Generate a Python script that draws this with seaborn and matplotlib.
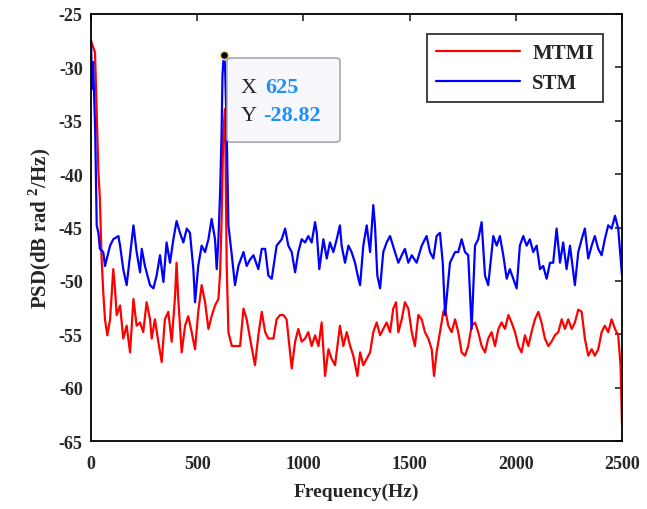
import numpy as np
import pandas as pd
import seaborn as sns
import matplotlib
matplotlib.use("Agg")
import matplotlib.pyplot as plt
from matplotlib.patches import FancyBboxPatch

# (frequency Hz, PSD dB)
mtmi_points = [
    (0, -27.5), (19, -28.6), (27, -34.2), (35, -39.8), (42, -42.3), (50, -47.9), (58, -51.1), (66, -53.6), (77, -55.1), (90, -53.6),
    (105, -48.9), (113, -50.7), (121, -53.2), (137, -52.3), (152, -55.4), (168, -54.2), (184, -56.7), (200, -51.7), (215, -54.2), (231, -53.9),
    (246, -54.8), (262, -52.0), (278, -53.6), (286, -55.4), (301, -53.6), (317, -55.7), (333, -57.6), (348, -53.6), (364, -52.9), (380, -55.7),
    (396, -51.4), (403, -48.3), (411, -51.7), (427, -56.7), (443, -54.2), (458, -53.3), (474, -54.8), (490, -56.4), (505, -52.9), (521, -50.4),
    (537, -52.0), (553, -54.5), (568, -53.3), (584, -52.3), (600, -51.7), (608, -49.2), (615, -44.2), (623, -36.1), (631, -33.9), (639, -48.6),
    (647, -54.8), (663, -56.1), (678, -56.1), (702, -56.1), (718, -52.6), (733, -53.6), (749, -55.4), (772, -57.9), (788, -55.1), (804, -52.9),
    (820, -54.8), (835, -55.4), (859, -55.4), (874, -53.6), (890, -53.2), (906, -53.2), (921, -53.6), (937, -56.7), (945, -58.2), (961, -55.7),
    (976, -54.5), (992, -55.7), (1008, -55.4), (1023, -54.8), (1039, -56.1), (1055, -55.1), (1071, -56.1), (1086, -53.9), (1102, -58.9), (1118, -56.4),
    (1133, -57.3), (1149, -57.9), (1172, -54.2), (1188, -56.1), (1204, -54.8), (1220, -56.1), (1235, -57.0), (1254, -58.9), (1267, -56.7), (1282, -57.9),
    (1298, -57.3), (1314, -56.7), (1329, -54.8), (1345, -53.9), (1361, -55.1), (1376, -54.5), (1392, -53.9), (1408, -54.8), (1423, -52.6), (1436, -52.0),
    (1447, -54.8), (1463, -53.6), (1478, -52.0), (1494, -52.6), (1510, -54.8), (1525, -56.1), (1541, -53.2), (1557, -53.6), (1572, -54.8), (1588, -55.4),
    (1604, -56.4), (1615, -58.9), (1627, -56.7), (1643, -54.8), (1659, -52.9), (1667, -52.6), (1682, -54.2), (1698, -54.8), (1714, -53.6), (1729, -54.8),
    (1745, -56.7), (1761, -57.0), (1776, -56.1), (1792, -54.2), (1808, -53.9), (1823, -54.8), (1839, -56.1), (1855, -56.7), (1870, -55.4), (1886, -54.8),
    (1902, -56.1), (1918, -54.5), (1933, -53.9), (1949, -54.5), (1965, -53.2), (1980, -53.9), (1996, -54.8), (2012, -56.1), (2027, -56.7), (2043, -55.1),
    (2059, -56.1), (2074, -54.8), (2090, -53.6), (2106, -52.9), (2121, -53.9), (2137, -55.4), (2153, -56.1), (2168, -55.7), (2184, -55.1), (2200, -54.8),
    (2216, -53.6), (2231, -54.5), (2247, -53.6), (2263, -54.5), (2278, -53.9), (2294, -52.7), (2310, -52.9), (2325, -55.4), (2341, -57.0), (2357, -56.4),
    (2372, -57.0), (2388, -56.4), (2404, -54.8), (2419, -54.2), (2435, -54.8), (2451, -53.6), (2467, -54.5), (2482, -55.1), (2493, -57.9), (2500, -63.5),
]

stm_points = [
    (0, -27.5), (5, -32.0), (10, -29.5), (20, -36.0), (27, -44.8), (35, -45.5), (42, -47.0), (58, -47.3), (66, -48.6), (90, -46.7),
    (105, -46.1), (129, -45.8), (137, -46.7), (152, -48.9), (168, -50.4), (184, -47.6), (200, -44.8), (215, -47.3), (231, -49.2), (239, -47.0),
    (254, -48.6), (278, -50.4), (294, -50.7), (309, -49.5), (325, -47.6), (341, -50.1), (356, -46.4), (372, -48.3), (388, -46.1), (403, -44.4),
    (419, -45.5), (435, -46.4), (451, -45.1), (466, -45.5), (482, -48.9), (490, -52.0), (505, -48.6), (521, -46.7), (537, -47.3), (553, -46.1),
    (568, -44.2), (584, -46.1), (592, -48.9), (600, -46.1), (608, -41.7), (615, -36.1), (619, -30.8), (625, -28.82), (631, -29.7), (639, -36.1),
    (647, -44.8), (663, -47.6), (678, -50.4), (694, -48.6), (718, -47.3), (733, -48.6), (749, -48.0), (765, -47.6), (788, -48.9), (804, -47.0),
    (820, -47.0), (835, -49.5), (851, -49.8), (874, -46.7), (898, -46.1), (914, -45.1), (929, -46.7), (945, -47.3), (961, -49.2), (976, -47.3),
    (992, -46.1), (1008, -46.4), (1023, -45.8), (1039, -46.4), (1055, -44.5), (1063, -45.5), (1075, -48.9), (1094, -46.1), (1110, -47.9), (1125, -46.4),
    (1141, -47.3), (1157, -46.1), (1172, -44.8), (1180, -46.7), (1196, -48.3), (1212, -46.7), (1227, -47.3), (1243, -48.3), (1259, -49.8), (1267, -50.4),
    (1282, -46.7), (1298, -44.8), (1314, -47.3), (1329, -42.9), (1337, -44.8), (1348, -49.5), (1361, -50.7), (1376, -47.3), (1392, -46.4), (1408, -45.8),
    (1431, -47.3), (1447, -48.3), (1463, -47.6), (1478, -47.0), (1494, -48.3), (1510, -47.6), (1533, -48.3), (1557, -46.7), (1580, -45.8), (1596, -47.3),
    (1612, -47.9), (1627, -45.8), (1643, -45.5), (1656, -48.3), (1667, -53.2), (1690, -48.3), (1714, -47.3), (1729, -47.3), (1745, -46.1), (1761, -47.3),
    (1776, -47.6), (1792, -54.5), (1808, -46.7), (1823, -46.1), (1839, -44.5), (1855, -49.5), (1870, -50.4), (1886, -47.3), (1894, -45.8), (1910, -46.7),
    (1925, -45.8), (1941, -47.6), (1957, -49.8), (1972, -48.9), (1988, -49.8), (2004, -50.7), (2019, -46.7), (2035, -45.8), (2051, -46.7), (2066, -46.1),
    (2082, -47.3), (2098, -46.7), (2114, -48.9), (2129, -48.6), (2145, -49.8), (2161, -48.3), (2176, -48.3), (2192, -45.1), (2208, -48.3), (2223, -46.4),
    (2239, -48.9), (2255, -46.7), (2278, -50.4), (2294, -47.3), (2310, -46.1), (2325, -45.1), (2341, -47.9), (2357, -46.7), (2372, -45.8), (2388, -47.0),
    (2404, -47.6), (2419, -46.1), (2435, -44.8), (2451, -45.1), (2467, -43.9), (2482, -45.1), (2500, -49.5),
]

series_names = ["MTMI", "STM"]
series_colors = ["#ff0000", "#0000ff"]
marker_x = 625
marker_y = -28.82

frames = []
for name, pts in zip(series_names, [mtmi_points, stm_points]):
    f = pd.DataFrame(pts, columns=["freq", "psd"])
    f["method"] = name
    frames.append(f)
df = pd.concat(frames, ignore_index=True)

sns.set_style("white")
plt.rcParams["font.family"] = ["Liberation Serif", "DejaVu Serif"]
plt.rcParams["mathtext.fontset"] = "custom"
plt.rcParams["mathtext.bf"] = "Liberation Serif:bold"
plt.rcParams["mathtext.rm"] = "Liberation Serif"
plt.rcParams["axes.unicode_minus"] = False

fig = plt.figure(figsize=(6.47, 5.10), dpi=100)
ax = fig.add_axes([0.1406, 0.1333, 0.8208, 0.8373])

sns.lineplot(data=df, x="freq", y="psd", hue="method", palette=series_colors,
             sort=False, estimator=None, linewidth=1.6, ax=ax)

ax.set_xlim(0, 2500)
ax.set_ylim(-65, -25)
ax.set_xticks(np.arange(0, 2501, 500))
ax.set_yticks(np.arange(-65, -24, 5))
ax.tick_params(direction="in", top=True, right=True, length=5, width=1.2, labelsize=13)
ax.tick_params(axis="x", pad=10)
ax.tick_params(axis="y", pad=6)
for lab in ax.get_xticklabels() + ax.get_yticklabels():
    lab.set_fontweight("bold")
for sp in ax.spines.values():
    sp.set_linewidth(1.3)
    sp.set_color("black")

ax.set_xlabel("Frequency(Hz)", fontsize=14, fontweight="bold", labelpad=8)
ax.set_ylabel(r"PSD(dB rad $^{\mathbf{2}}$/Hz)", fontsize=15, fontweight="bold", labelpad=4)

leg = ax.legend(loc="upper right", bbox_to_anchor=(0.965, 0.953), frameon=True, fancybox=False,
                edgecolor="black", prop={"weight": "bold", "size": 15}, handlelength=4.0,
                borderpad=0.45, labelspacing=0.45, handletextpad=0.6, borderaxespad=0)
leg.get_frame().set_linewidth(1.3)

# data cursor
ax.plot([marker_x], [marker_y], "o", color="black", markersize=6, markeredgecolor="#e8e0a0",
        markeredgewidth=1.2, zorder=5)
ax.text(0.282, 0.829, "X", transform=ax.transAxes, fontsize=16, va="center", zorder=7)
ax.text(0.328, 0.829, f"{marker_x}", transform=ax.transAxes, fontsize=16, va="center",
        color="#1e90ff", fontweight="bold", zorder=7)
ax.text(0.282, 0.763, "Y", transform=ax.transAxes, fontsize=16, va="center", zorder=7)
ax.text(0.324, 0.763, f"{marker_y}", transform=ax.transAxes, fontsize=16, va="center",
        color="#1e90ff", fontweight="bold", zorder=7)
box = FancyBboxPatch((0.256, 0.70), 0.213, 0.197, transform=ax.transAxes,
                     boxstyle="round,pad=0,rounding_size=0.008", facecolor="#f8f8fc",
                     edgecolor="#999999", linewidth=1.0, zorder=6)
ax.add_patch(box)

fig.savefig("out.png", dpi=100)
